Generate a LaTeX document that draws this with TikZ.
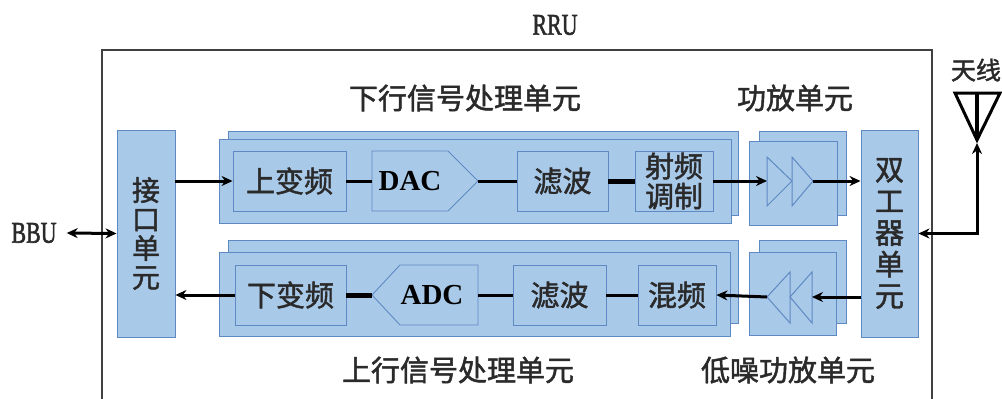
\documentclass[tikz,border=0pt]{standalone}
\usepackage{fontspec}
\setmainfont{Liberation Serif}
\newfontfamily\cjk[FakeBold=1.6]{Noto Sans CJK SC}
\newfontfamily\serifmed[FakeBold=2]{Liberation Serif}
\usetikzlibrary{arrows.meta}
\definecolor{boxfill}{HTML}{A9C9E9}
\definecolor{boxline}{HTML}{5F89C2}
\definecolor{txt}{HTML}{2A2A2A}
\begin{document}
\begin{tikzpicture}[x=1pt,y=-1pt,
  panel/.style={fill=boxfill,draw=boxline,line width=0.9pt},
  blk/.style={panel,inner sep=0pt,text=txt,font=\cjk\fontsize{29}{31}\selectfont},
  ghost/.style={inner sep=0pt},
  head/.style={text=txt,inner sep=0pt,font=\cjk\fontsize{29}{31}\selectfont},
  latin/.style={text=txt,inner sep=0pt,font=\serifmed\fontsize{30}{32}\selectfont},
  conn/.style={line width=3pt,black},
  thick conn/.style={line width=5pt,black},
  arr/.style={conn,-{Stealth[length=11pt,width=10pt]}},
  amp/.style={draw=boxline,line width=1pt},
  rru/.style={draw=black!75,line width=1.2pt}
]
\useasboundingbox (0,0) rectangle (1002,399);

% RRU outline
\draw[rru] (102,402) -- (102,50) -- (932,50) -- (932,402);
\node[latin] (rrulbl) at (555,25) {\scalebox{0.73}[1]{RRU}};
\node[latin] (bbu) at (34,233) {\scalebox{0.73}[1]{BBU}};

% headings
\node[head] (dlhead) at (465,98) {下行信号处理单元};
\node[head] (pahead) at (795,98) {功放单元};
\node[head] (ulhead) at (458,370) {上行信号处理单元};
\node[head] (lnahead) at (788,370) {低噪功放单元};
\node[head,font=\cjk\fontsize{25}{27}\selectfont] (antlbl) at (976,70) {天线};

% interface unit
\node[blk,minimum width=58pt,minimum height=207pt,align=center,
      font=\cjk\fontsize{28}{29}\selectfont] (jk) at (146,233.5) {接\\口\\单\\元};

% duplexer
\node[blk,minimum width=57pt,minimum height=207pt,align=center,
      font=\cjk\fontsize{29}{31.6}\selectfont] (dup) at (889.5,233.5) {双\\工\\器\\单\\元};

% stacked panels upper
\draw[panel] (228,131) rectangle (738,215);
\draw[panel] (219,139) rectangle (731,223);
\draw[panel] (759,131) rectangle (846,215);
\draw[panel] (749,141) rectangle (837,225);
% stacked panels lower
\draw[panel] (228,240) rectangle (738,323);
\draw[panel] (219,252) rectangle (730,336);
\draw[panel] (759,240) rectangle (846,323);
\draw[panel] (749,252) rectangle (836,335);

% upper chain
\node[blk,minimum width=113pt,minimum height=60pt] (up) at (289.5,181) {上变频};
\draw[panel] (372,151) -- (448,151) -- (478,181) -- (448,211) -- (372,211) -- cycle;
\node[ghost,minimum width=106pt,minimum height=60pt,text=black,
      font=\bfseries\fontsize{29}{30}\selectfont] (dac) at (425,181) {\hspace*{-30pt}DAC};
\node[blk,minimum width=91pt,minimum height=60pt] (lb1) at (562.5,181) {滤波};
\node[blk,minimum width=78pt,minimum height=60pt,align=center,
      font=\cjk\fontsize{29}{30}\selectfont] (rf) at (674,181) {射频\\调制};
\draw[amp] (767,157) -- (792,181) -- (767,206) -- cycle;
\draw[amp] (792,157) -- (813,181) -- (792,206) -- cycle;
\coordinate (pa1in) at (767,181);
\coordinate (pa1out) at (813,181);

% lower chain
\node[blk,minimum width=111pt,minimum height=60pt] (dn) at (290.5,295) {下变频};
\draw[panel] (372,295) -- (400,265) -- (478,265) -- (478,325) -- (400,325) -- cycle;
\node[ghost,minimum width=106pt,minimum height=60pt,text=black,
      font=\bfseries\fontsize{29}{30}\selectfont] (adc) at (425,295) {ADC\hspace*{-14pt}};
\node[blk,minimum width=93pt,minimum height=60pt] (lb2) at (559.5,295) {滤波};
\node[blk,minimum width=78pt,minimum height=60pt] (mix) at (677,295) {混频};
\draw[amp] (790,272) -- (767,297) -- (790,323) -- cycle;
\draw[amp] (812,272) -- (790,297) -- (812,323) -- cycle;
\coordinate (pa2in) at (812,297);
\coordinate (pa2out) at (767,297);

% connectors upper
\draw[arr] (jk.east |- up.west) -- (up.west);
\draw[conn] (up.east) -- (dac.west);
\draw[conn] (dac.east) -- (lb1.west);
\draw[thick conn] (lb1.east) -- (rf.west);
\draw[arr] (rf.east) -- (pa1in);
\draw[arr] (pa1out) -- (dup.west |- pa1out);

% connectors lower
\draw[arr] (dn.west) -- (jk.east |- dn.west);
\draw[thick conn] (dn.east) -- (adc.west);
\draw[conn] (adc.east) -- (lb2.west);
\draw[conn] (lb2.east) -- (mix.west);
\draw[arr] (pa2out) -- (mix.east);
\draw[arr] (dup.west |- pa2in) -- (pa2in);

% BBU
\draw[conn,{Stealth[length=11pt,width=10pt]}-{Stealth[length=11pt,width=10pt]}]
  ([xshift=10pt]bbu.east) -- (jk.west);

% antenna
\draw[line width=3pt,line join=miter] (955,93) -- (1000,93) -- (977,140) -- cycle;
\draw[line width=4.5pt] (977,93) -- (977,140);
\coordinate (ant) at (977,143);
\draw[conn,{Stealth[length=11pt,width=10pt]}-{Stealth[length=11pt,width=10pt]}]
  (dup.east) -| (ant);
\end{tikzpicture}
\end{document}
